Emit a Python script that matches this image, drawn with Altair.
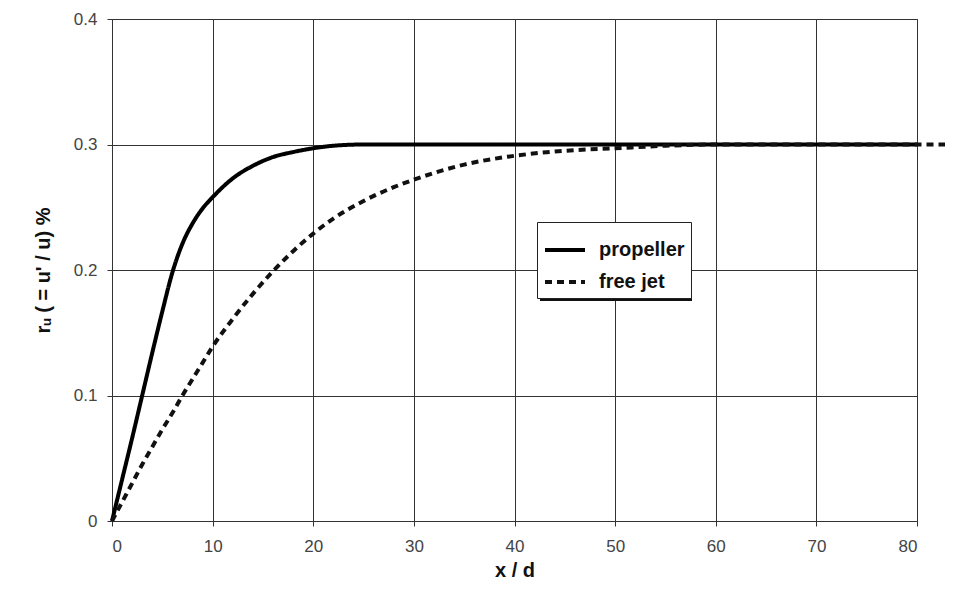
import altair as alt
import pandas as pd

series_names = ["propeller", "free jet"]

propeller_x = [0, 1, 2, 3, 4, 5, 6, 7, 8, 9, 10, 12, 14, 16, 18, 20, 22, 25, 30, 40, 50, 60, 70, 80]
propeller_y = [0, 0.033, 0.066, 0.1, 0.134, 0.167, 0.198, 0.221, 0.237, 0.249, 0.258, 0.273, 0.283,
               0.29, 0.294, 0.297, 0.299, 0.3, 0.3, 0.3, 0.3, 0.3, 0.3, 0.3]

freejet_x = [0, 1, 2, 3, 4, 5, 6, 7, 8, 9, 10, 12, 14, 16, 18, 20, 22, 25, 28, 30, 35, 40, 45, 50,
             55, 60, 70, 80, 83]
freejet_y = [0, 0.015, 0.03, 0.045, 0.059, 0.073, 0.086, 0.1, 0.113, 0.126, 0.139, 0.161, 0.181,
             0.199, 0.215, 0.229, 0.241, 0.255, 0.266, 0.272, 0.284, 0.291, 0.295, 0.297, 0.299,
             0.3, 0.3, 0.3, 0.3]

x_ticks = [0, 10, 20, 30, 40, 50, 60, 70, 80]
y_ticks = [0, 0.1, 0.2, 0.3, 0.4]

rows = []
for x, y in zip(propeller_x, propeller_y):
    rows.append({"x": x, "y": y, "series": series_names[0]})
for x, y in zip(freejet_x, freejet_y):
    rows.append({"x": x, "y": y, "series": series_names[1]})
df = pd.DataFrame(rows)

FONT = "Liberation Sans"

# legend shadow (decoration)
shadow = alt.Chart(pd.DataFrame({"a": [0]})).mark_rect(color="#111111").encode(
    x=alt.value(428), x2=alt.value(580), y=alt.value(206), y2=alt.value(282)
)

lines = alt.Chart(df).mark_line(clip=False, strokeWidth=4, strokeCap="butt",
                                interpolate="monotone").encode(
    x=alt.X("x:Q", scale=alt.Scale(domain=[0, 80], nice=False),
            axis=alt.Axis(values=x_ticks, title="x / d", labelPadding=12, titlePadding=6)),
    y=alt.Y("y:Q", scale=alt.Scale(domain=[0, 0.4], nice=False),
            axis=alt.Axis(values=y_ticks, format=".1~f", title="rᵤ ( = u' / u) %",
                          labelPadding=10, titlePadding=20)),
    color=alt.Color("series:N", scale=alt.Scale(domain=series_names, range=["#000000", "#111111"]),
                    legend=alt.Legend(title=None)),
    strokeDash=alt.StrokeDash("series:N",
                              scale=alt.Scale(domain=series_names, range=[[1, 0], [7, 5]]),
                              legend=alt.Legend(title=None)),
    detail="series:N",
)

chart = alt.layer(shadow, lines).properties(
    width=805, height=502,
    autosize=alt.AutoSizeParams(type="none"),
    padding={"left": 104, "top": 11, "right": 28, "bottom": 60},
).configure_view(
    stroke="#333333", strokeWidth=1
).configure_axis(
    grid=True, gridColor="#333333", gridWidth=1, gridOpacity=1,
    domainColor="#333333", tickColor="#333333", tickSize=5,
    labelColor="#444444", labelFont=FONT, labelFontSize=17,
    titleFont=FONT, titleFontSize=20, titleFontWeight="bold", titleColor="#111111",
).configure_legend(
    orient="none", legendX=425, legendY=203,
    strokeColor="#222222", fillColor="white", padding=6,
    symbolType="stroke", symbolSize=1600, symbolStrokeWidth=4,
    labelFont=FONT, labelFontSize=20, labelFontWeight="bold", labelColor="#111111",
    rowPadding=0, cornerRadius=0, labelOffset=12,
)

chart.save("out.html", embed_options={"renderer": "svg", "actions": False})
